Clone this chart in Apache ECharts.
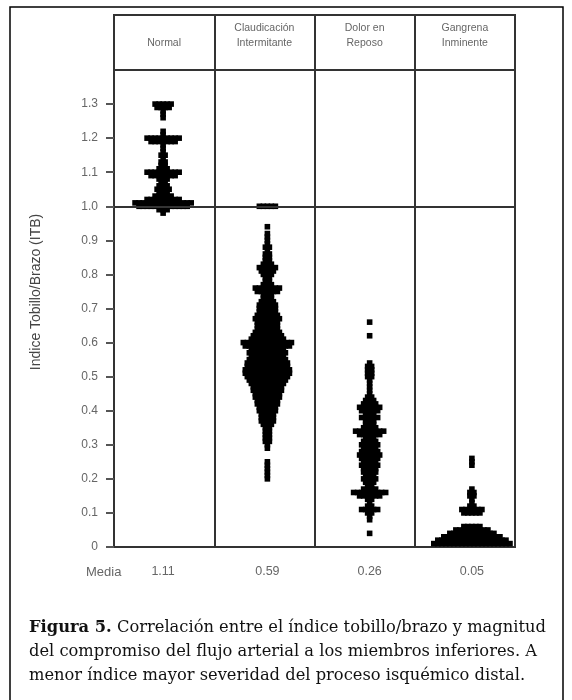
<!DOCTYPE html>
<html>
<head>
<meta charset="utf-8">
<script src="https://cdn.jsdelivr.net/npm/echarts@6/dist/echarts.min.js"></script>
<style>
  html, body { margin: 0; padding: 0; background: #fff; }
  #chart { width: 572px; height: 700px; }
</style>
</head>
<body>
<div id="chart"></div>
<script>
// categorias y medias
const groups = ['Normal', 'Claudicación\nIntermitante', 'Dolor en\nReposo', 'Gangrena\nInminente'];
const medias = ['1.11', '0.59', '0.26', '0.05'];
const yTicks = [0, 0.1, 0.2, 0.3, 0.4, 0.5, 0.6, 0.7, 0.8, 0.9, 1.0, 1.1, 1.2, 1.3];

// ITB por grupo: valor y numero de pacientes en ese valor
const normalValues = [1.30, 1.29, 1.28, 1.27, 1.26, 1.22, 1.21, 1.20, 1.19, 1.18, 1.17, 1.16, 1.15, 1.14, 1.13, 1.12, 1.11, 1.10, 1.09, 1.08, 1.07, 1.06, 1.05, 1.04, 1.03, 1.02, 1.01, 1.00, 0.99, 0.98];
const normalCounts = [5, 4, 1, 1, 1, 1, 1, 9, 7, 1, 1, 1, 2, 1, 2, 2, 3, 9, 7, 3, 2, 3, 4, 3, 5, 9, 15, 13, 3, 1];

const claudValues = [1.00, 0.94, 0.92, 0.91, 0.90, 0.89, 0.88, 0.87, 0.86, 0.85, 0.84, 0.83, 0.82, 0.81, 0.80, 0.79, 0.78, 0.77, 0.76, 0.75, 0.74, 0.73, 0.72, 0.71, 0.70, 0.69, 0.68, 0.67, 0.66, 0.65, 0.64, 0.63, 0.62, 0.61, 0.60, 0.59, 0.58, 0.57, 0.56, 0.55, 0.54, 0.53, 0.52, 0.51, 0.50, 0.49, 0.48, 0.47, 0.46, 0.45, 0.44, 0.43, 0.42, 0.41, 0.40, 0.39, 0.38, 0.37, 0.36, 0.35, 0.34, 0.33, 0.32, 0.31, 0.30, 0.29, 0.25, 0.24, 0.23, 0.22, 0.21, 0.20];
const claudCounts = [5, 1, 1, 1, 1, 1, 2, 1, 2, 2, 2, 3, 5, 4, 3, 2, 2, 3, 7, 6, 3, 3, 4, 5, 5, 5, 6, 7, 6, 6, 6, 7, 8, 9, 13, 12, 9, 10, 9, 10, 11, 11, 12, 12, 11, 10, 9, 8, 8, 7, 7, 6, 6, 5, 5, 4, 4, 4, 3, 2, 2, 2, 2, 2, 1, 1, 1, 1, 1, 1, 1, 1];

const dolorValues = [0.66, 0.62, 0.54, 0.53, 0.52, 0.51, 0.50, 0.49, 0.48, 0.47, 0.46, 0.45, 0.44, 0.43, 0.42, 0.41, 0.40, 0.39, 0.38, 0.37, 0.36, 0.35, 0.34, 0.33, 0.32, 0.31, 0.30, 0.29, 0.28, 0.27, 0.26, 0.25, 0.24, 0.23, 0.22, 0.21, 0.20, 0.19, 0.18, 0.17, 0.16, 0.15, 0.14, 0.13, 0.12, 0.11, 0.10, 0.09, 0.08, 0.04];
const dolorCounts = [1, 1, 1, 2, 2, 2, 2, 1, 1, 1, 1, 1, 2, 3, 4, 6, 5, 3, 5, 3, 3, 4, 8, 6, 3, 4, 5, 4, 5, 6, 5, 4, 5, 4, 4, 3, 4, 3, 2, 4, 9, 6, 2, 1, 2, 5, 2, 1, 1, 1];

const gangValues = [0.26, 0.25, 0.24, 0.17, 0.16, 0.15, 0.14, 0.13, 0.12, 0.11, 0.10, 0.06, 0.05, 0.04, 0.03, 0.02, 0.01];
const gangCounts = [1, 1, 1, 1, 2, 2, 1, 1, 2, 6, 5, 5, 9, 12, 15, 18, 20];

const groupValues = [normalValues, claudValues, dolorValues, gangValues];
const groupCounts = [normalCounts, claudCounts, dolorCounts, gangCounts];

// posicion de cada columna de puntos sobre el eje x (0..4) y separacion entre puntos
const groupCenters = [0.49, 1.53, 2.55, 3.57];
const dotStep = 0.04;

const lineColor = '#333';
const textGray = '#666';

// los puntos del mismo valor se apilan a lo ancho, centrados
const dots = [];
groupValues.forEach((vals, g) => {
  vals.forEach((v, i) => {
    const n = groupCounts[g][i];
    for (let k = 0; k < n; k++) {
      dots.push([groupCenters[g] + (k - (n - 1) / 2) * dotStep, v]);
    }
  });
});

const chart = echarts.init(document.getElementById('chart'));
chart.setOption({
  animation: false,
  backgroundColor: '#fff',
  grid: [
    { left: 114, right: 57, top: 70, bottom: 153, show: true, borderColor: lineColor, borderWidth: 2 },
    { left: 114, right: 57, top: 15, height: 55, show: true, borderColor: lineColor, borderWidth: 2 }
  ],
  xAxis: [
    {
      gridIndex: 0,
      type: 'value',
      min: 0,
      max: 4,
      interval: 1,
      axisLine: { show: true, lineStyle: { color: lineColor, width: 2 } },
      axisTick: { show: false },
      splitLine: { show: true, lineStyle: { color: lineColor, width: 2 } },
      axisLabel: {
        customValues: groupCenters,
        formatter: (v) => medias[groupCenters.indexOf(v)],
        color: textGray,
        fontSize: 12.5,
        fontFamily: 'Liberation Sans, Arial, sans-serif',
        margin: 18
      }
    },
    {
      gridIndex: 1,
      type: 'category',
      data: groups,
      axisLine: { show: false },
      axisTick: { show: false },
      splitLine: { show: true, lineStyle: { color: lineColor, width: 2 } },
      axisLabel: {
        inside: true,
        margin: 19,
        color: textGray,
        fontSize: 10.5,
        lineHeight: 15,
        fontFamily: 'Liberation Sans, Arial, sans-serif',
        verticalAlign: 'bottom'
      }
    }
  ],
  yAxis: [
    {
      gridIndex: 0,
      type: 'value',
      min: 0,
      max: 1.4,
      interval: 0.1,
      axisLine: { show: true, lineStyle: { color: lineColor, width: 2 } },
      axisTick: { show: true, length: 8, customValues: yTicks, lineStyle: { color: '#555', width: 2 } },
      splitLine: { show: false },
      axisLabel: {
        customValues: yTicks,
        formatter: (v) => (v === 0 ? '0' : v.toFixed(1)),
        color: textGray,
        fontSize: 12,
        fontFamily: 'Liberation Sans, Arial, sans-serif',
        margin: 16
      }
    },
    { gridIndex: 1, type: 'value', show: false }
  ],
  series: [
    {
      type: 'scatter',
      xAxisIndex: 0,
      yAxisIndex: 0,
      data: dots,
      symbol: 'rect',
      symbolSize: 5.6,
      itemStyle: { color: '#000', opacity: 1 },
      silent: true,
      clip: false,
      markLine: {
        silent: true,
        symbol: 'none',
        label: { show: false },
        lineStyle: { color: lineColor, width: 2, type: 'solid' },
        data: [{ yAxis: 1.0 }]
      }
    }
  ],
  graphic: [
    {
      type: 'rect',
      shape: { x: 10, y: 7, width: 553, height: 720 },
      style: { fill: 'none', stroke: '#000', lineWidth: 1.5 },
      silent: true
    },
    {
      type: 'text',
      x: 36,
      y: 292,
      rotation: Math.PI / 2,
      style: {
        text: 'Indice Tobillo/Brazo (ITB)',
        fill: '#444',
        fontSize: 14,
        fontFamily: 'Liberation Sans, Arial, sans-serif',
        align: 'center',
        verticalAlign: 'middle'
      }
    },
    {
      type: 'text',
      x: 86,
      y: 572,
      style: {
        text: 'Media',
        fill: textGray,
        fontSize: 13,
        fontFamily: 'Liberation Sans, Arial, sans-serif',
        align: 'left',
        verticalAlign: 'middle'
      }
    },
    {
      type: 'text',
      x: 29,
      y: 628,
      style: {
        text: '{b|Figura 5.} Correlación entre el índice tobillo/brazo y magnitud',
        fill: '#111',
        fontSize: 16.3,
        fontFamily: 'DejaVu Serif, serif',
        verticalAlign: 'middle',
        rich: { b: { fontWeight: 'bold', fontSize: 16.3, fontFamily: 'DejaVu Serif, serif', fill: '#111' } }
      }
    },
    {
      type: 'text',
      x: 29,
      y: 652,
      style: {
        text: 'del compromiso del flujo arterial a los miembros inferiores. A',
        fill: '#111',
        fontSize: 16.3,
        fontFamily: 'DejaVu Serif, serif',
        verticalAlign: 'middle'
      }
    },
    {
      type: 'text',
      x: 29,
      y: 676,
      style: {
        text: 'menor índice mayor severidad del proceso isquémico distal.',
        fill: '#111',
        fontSize: 16.3,
        fontFamily: 'DejaVu Serif, serif',
        verticalAlign: 'middle'
      }
    }
  ]
});
</script>
</body>
</html>
